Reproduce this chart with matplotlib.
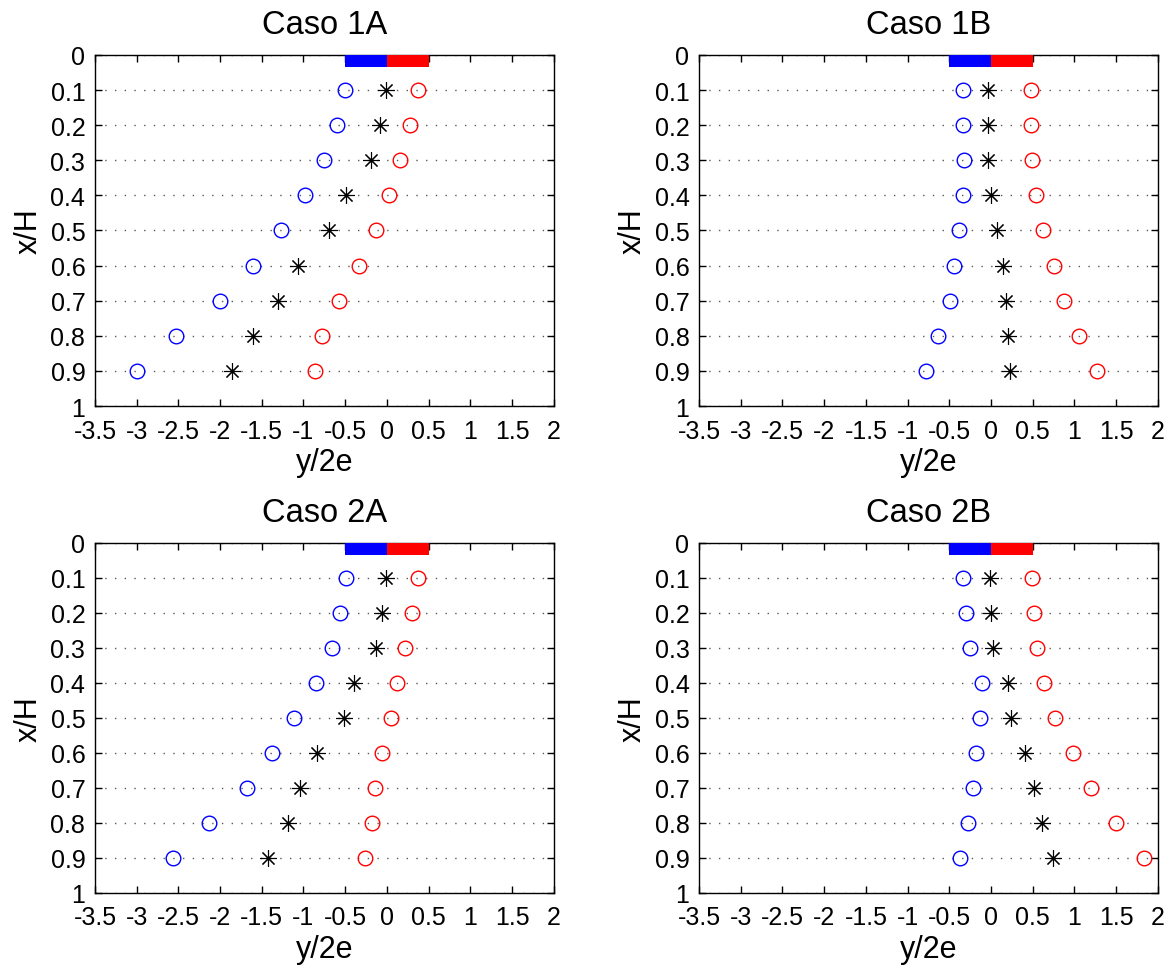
import numpy as np
import matplotlib
matplotlib.use("Agg")
import matplotlib.pyplot as plt

plt.rcParams['font.family'] = ['Liberation Sans', 'DejaVu Sans']
plt.rcParams['axes.unicode_minus'] = False

# x/H stations (same for all cases)
x_h = [0.1, 0.2, 0.3, 0.4, 0.5, 0.6, 0.7, 0.8, 0.9]

titles = ['Caso 1A', 'Caso 1B', 'Caso 2A', 'Caso 2B']

# y/2e values: blue circles, black asterisks, red circles
blue_1a = [-0.50, -0.60, -0.75, -0.98, -1.27, -1.61, -2.00, -2.53, -3.00]
star_1a = [-0.01, -0.08, -0.19, -0.49, -0.70, -1.07, -1.30, -1.60, -1.86]
red_1a = [0.37, 0.28, 0.16, 0.02, -0.13, -0.34, -0.57, -0.78, -0.86]

blue_1b = [-0.34, -0.33, -0.32, -0.33, -0.38, -0.44, -0.49, -0.63, -0.78]
star_1b = [-0.04, -0.04, -0.04, 0.00, 0.07, 0.15, 0.18, 0.21, 0.23]
red_1b = [0.48, 0.48, 0.49, 0.54, 0.62, 0.75, 0.88, 1.05, 1.27]

blue_2a = [-0.49, -0.56, -0.66, -0.85, -1.11, -1.38, -1.68, -2.13, -2.57]
star_2a = [-0.01, -0.06, -0.13, -0.39, -0.52, -0.84, -1.04, -1.19, -1.42]
red_2a = [0.37, 0.30, 0.22, 0.12, 0.05, -0.06, -0.14, -0.18, -0.26]

blue_2b = [-0.34, -0.30, -0.25, -0.11, -0.13, -0.18, -0.22, -0.27, -0.37]
star_2b = [-0.01, 0.00, 0.02, 0.21, 0.24, 0.41, 0.52, 0.61, 0.74]
red_2b = [0.49, 0.52, 0.55, 0.63, 0.77, 0.98, 1.20, 1.50, 1.84]

cases = [(blue_1a, star_1a, red_1a), (blue_1b, star_1b, red_1b),
         (blue_2a, star_2a, red_2a), (blue_2b, star_2b, red_2b)]

xticks = np.arange(-3.5, 2.01, 0.5)
yticks = np.arange(0, 1.01, 0.1)

fig = plt.figure(figsize=(11.73, 9.70), dpi=100)
positions = [[0.081, 0.5804, 0.391, 0.3619], [0.596, 0.5804, 0.391, 0.3619],
             [0.081, 0.0784, 0.391, 0.3608], [0.596, 0.0784, 0.391, 0.3608]]

for pos, title, (blue, star, red) in zip(positions, titles, cases):
    ax = fig.add_axes(pos)
    # body marker: blue/red halves at the top
    ax.barh(0.017, 0.5, left=-0.5, height=0.034, color='blue', zorder=3)
    ax.barh(0.017, 0.5, left=0.0, height=0.034, color='red', zorder=3)

    ax.plot(blue, x_h, 'o', mfc='none', mec='blue', ms=10.5, mew=1.0, ls='none', zorder=4)
    ax.plot(star, x_h, marker=(8, 2, 0), color='black', ms=12, mew=0.8, ls='none', zorder=4)
    ax.plot(red, x_h, 'o', mfc='none', mec='red', ms=10.5, mew=1.0, ls='none', zorder=4)

    ax.set_xlim(-3.5, 2)
    ax.set_ylim(1, 0)
    ax.set_xticks(xticks)
    ax.set_xticklabels(['%g' % t for t in xticks])
    ax.set_yticks(yticks)
    ax.set_yticklabels(['%g' % round(t, 1) for t in yticks])
    ax.yaxis.grid(True, linestyle=(0, (1, 6)), color='0.35', linewidth=1.0)
    ax.tick_params(direction='in', top=True, right=True, length=5, width=1,
                   labelsize=18)
    ax.tick_params(axis='x', pad=9)
    ax.tick_params(axis='y', pad=7)
    for s in ax.spines.values():
        s.set_linewidth(1.0)
    ax.set_title(title, fontsize=23.5, pad=16)
    ax.set_xlabel('y/2e', fontsize=22, labelpad=3)
    ax.set_ylabel('x/H', fontsize=22, labelpad=5)

fig.savefig('out.png', dpi=100)
